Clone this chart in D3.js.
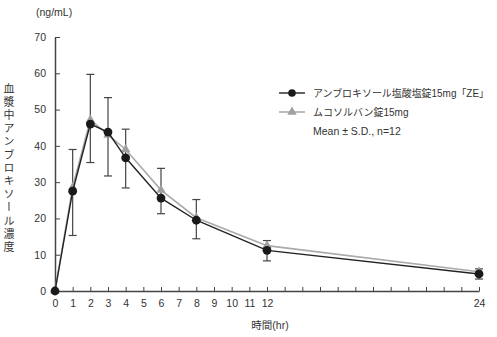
<!DOCTYPE html>
<html><head><meta charset="utf-8">
<script src="https://cdn.jsdelivr.net/npm/d3@7"></script>
<style>
body{margin:0;background:#fff;}
text{font-family:"Liberation Sans","Noto Sans CJK JP",sans-serif;fill:#333;}
</style></head>
<body>
<script>
const hours = [0, 1, 2, 3, 4, 6, 8, 12, 24];
const zeMean = [0, 27.5, 46.0, 43.8, 36.7, 25.6, 19.5, 11.2, 4.7];
const zeSdLow = [0, 15.3, 35.4, 31.7, 28.4, 21.3, 14.4, 8.3, 3.3];
const zeSdHigh = [0, 39.0, 59.7, 53.3, 44.6, 33.8, 25.2, 13.9, 6.1];
const mucoMean = [0, 28.6, 47.2, 43.0, 39.0, 27.8, 20.2, 12.5, 5.3];
const xTickValues = d3.range(0, 25);
const xTickLabels = [0,1,2,3,4,5,6,7,8,9,10,11,12,24];
const yTickValues = [0,10,20,30,40,50,60,70];
const seriesNames = ["アンブロキソール塩酸塩錠15mg「ZE」", "ムコソルバン錠15mg"];
const noteText = "Mean ± S.D., n=12";
const yTitle = "血漿中アンブロキソール濃度";
const yUnit = "(ng/mL)";
const xTitle = "時間(hr)";

const W = 497, H = 337;
const svg = d3.select("body").append("svg").attr("width", W).attr("height", H);
const x = d3.scaleLinear().domain([0, 24]).range([55, 479]);
const y = d3.scaleLinear().domain([0, 70]).range([291, 37]);
const axisColor = "#444";

// axes
const xAxis = svg.append("g").attr("transform", `translate(0,${y(0)})`)
  .call(d3.axisBottom(x).tickValues(xTickValues).tickSizeInner(-4).tickSizeOuter(0).tickPadding(9)
    .tickFormat(d => xTickLabels.includes(d) ? d : ""));
xAxis.select(".domain").attr("stroke", axisColor).attr("stroke-width", 1.5);
xAxis.selectAll(".tick line").attr("stroke", axisColor).attr("stroke-width", 1);
xAxis.selectAll(".tick text").attr("font-size", 10.5).attr("fill", "#333")
  .style("font-family", '"Liberation Sans",sans-serif');

const yAxis = svg.append("g").attr("transform", `translate(${x(0)},0)`)
  .call(d3.axisLeft(y).tickValues(yTickValues).tickSizeInner(-5).tickSizeOuter(0).tickPadding(9));
yAxis.select(".domain").attr("stroke", axisColor).attr("stroke-width", 1.5);
yAxis.selectAll(".tick line").attr("stroke", axisColor).attr("stroke-width", 1);
yAxis.selectAll(".tick text").attr("font-size", 10.5).attr("fill", "#333")
  .style("font-family", '"Liberation Sans",sans-serif');

// titles
svg.append("text").attr("x", 36).attr("y", 16).attr("font-size", 10.5).text(yUnit);
svg.append("text").attr("x", 270).attr("y", 329).attr("text-anchor", "middle").attr("font-size", 10.5).text(xTitle);
svg.append("text").attr("x", 9).attr("y", 83)
  .attr("font-size", 11).style("writing-mode", "vertical-rl").style("letter-spacing", "2.2px")
  .style("font-family", '"Noto Sans CJK JP",sans-serif').text(yTitle);

// error bars
const eb = svg.append("g").attr("stroke", "#444").attr("stroke-width", 1.2);
hours.forEach((h, i) => {
  if (zeSdHigh[i] === zeSdLow[i]) return;
  eb.append("line").attr("x1", x(h)).attr("x2", x(h)).attr("y1", y(zeSdLow[i])).attr("y2", y(zeSdHigh[i]));
  eb.append("line").attr("x1", x(h)-4).attr("x2", x(h)+4).attr("y1", y(zeSdLow[i])).attr("y2", y(zeSdLow[i]));
  eb.append("line").attr("x1", x(h)-4).attr("x2", x(h)+4).attr("y1", y(zeSdHigh[i])).attr("y2", y(zeSdHigh[i]));
});

const line = d3.line().x(d => x(d[0])).y(d => y(d[1]));
const mucoData = hours.map((h, i) => [h, mucoMean[i]]);
const zeData = hours.map((h, i) => [h, zeMean[i]]);

// grey series
svg.append("path").datum(mucoData).attr("d", line).attr("fill", "none").attr("stroke", "#aaa").attr("stroke-width", 1.6);
const tri = d3.symbol().type(d3.symbolTriangle).size(38);
svg.append("g").selectAll("path").data(mucoData).join("path")
  .attr("d", tri).attr("transform", d => `translate(${x(d[0])},${y(d[1])})`).attr("fill", "#a0a0a0");

// black series
svg.append("path").datum(zeData).attr("d", line).attr("fill", "none").attr("stroke", "#222").attr("stroke-width", 1.4);
svg.append("g").selectAll("circle").data(zeData).join("circle")
  .attr("cx", d => x(d[0])).attr("cy", d => y(d[1])).attr("r", 4.4).attr("fill", "#1a1a1a");

// legend
const lg = svg.append("g");
const ly = [93, 112];
lg.append("line").attr("x1", 279).attr("x2", 305).attr("y1", ly[0]).attr("y2", ly[0]).attr("stroke", "#222").attr("stroke-width", 1.4);
lg.append("circle").attr("cx", 292).attr("cy", ly[0]).attr("r", 3.8).attr("fill", "#1a1a1a");
lg.append("line").attr("x1", 279).attr("x2", 305).attr("y1", ly[1]).attr("y2", ly[1]).attr("stroke", "#aaa").attr("stroke-width", 1.6);
lg.append("path").attr("d", tri).attr("transform", `translate(292,${ly[1]})`).attr("fill", "#a0a0a0");
seriesNames.forEach((n, i) => {
  const t = lg.append("text").attr("x", 313).attr("y", ly[i] + 4).attr("font-size", 10).text(n);
  if (i === 0) t.attr("textLength", 176).attr("lengthAdjust", "spacingAndGlyphs");
});
lg.append("text").attr("x", 313).attr("y", 135).attr("font-size", 10.5).text(noteText);
</script>
</body></html>
